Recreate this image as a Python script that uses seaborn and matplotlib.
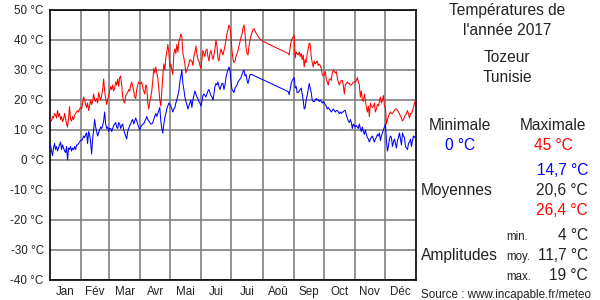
import numpy as np
import pandas as pd
import matplotlib
matplotlib.use("Agg")
import matplotlib.pyplot as plt
import seaborn as sns

nan = np.nan

# ---- labels ----
month_names = ["Jan", "Fév", "Mar", "Avr", "Mai", "Jui", "Jui", "Aoû", "Sep", "Oct", "Nov", "Déc"]
month_days = [31, 28, 31, 30, 31, 30, 31, 31, 30, 31, 30, 31]
y_ticks = [-40, -30, -20, -10, 0, 10, 20, 30, 40, 50]

# ---- daily maximum temperatures (°C) ----
tmax_jan = [13.5, 13, 14.5, 14, 15.5, 15, 14, 16.5, 14.5, 15.5, 13.5, 14.5, 12.8, 13.5, 15.5, 14, 12, 11, 14, 17.8,
            13.5, 13, 14.5, 13.5, 15, 15.5, 16, 16.5, 16, 17, 17.5]
tmax_feb = [17, 19, 21, 20, 18.5, 17.5, 19, 16.5, 18, 20, 18.5, 19.5, 22, 20, 19.5, 20.5, 19, 22.5, 21, 20,
            21.5, 23.5, 27, 23, 20.5, 18.5, 20, 21.5]
tmax_mar = [23, 24.5, 23.5, 25, 23, 24, 26, 25, 27, 24.5, 27.5, 28, 25, 21, 19.5, 19, 21.5, 22, 22.5, 23.5,
            23, 25, 26, 24.5, 23, 21, 20.5, 23.5, 25, 26, 25.5]
tmax_apr = [25.5, 26, 24, 23, 22, 25, 24.5, 19, 17, 19.5, 21, 23, 26.5, 30.5, 29, 31, 29, 27.5, 24, 20,
            18, 23, 28, 32, 30, 34, 36, 38.5, 36, 31]
tmax_may = [32, 30, 28.5, 35.5, 37, 35.5, 38.5, 36, 39.5, 40.5, 42, 41, 35.5, 34, 32, 29, 30, 31, 32, 33.5,
            33, 33, 31.5, 34.5, 36, 38, 35.5, 33.5, 33, 31.5, 30.5]
tmax_jun = [33.5, 36.5, 35.5, 34.5, 36.5, 37, 34.5, 33, 35.5, 36.5, 35, 33.5, 35, 37, 40, 38, 34, 33, 35.5, 37,
            36, 35, 36.5, 38, 40, 42, 43.5, 45, 44, 41]
tmax_jul = [36.5, 33.5, 32.5, 33, 34.5, 35.5, 36.5, 38, 39.5, 41, 42, 44, 45, 42, 37.5, 35.5, 35, 38, 40, 41.5,
            42.5, 43.5, 43.8, 43, 42.3, 41.8, 41.2, 40.7, 40.3, 40, 39.7]
tmax_aug = [nan] * 25 + [35.5, 35, 37.5, 39.5, 40.5, 41]
tmax_sep = [41.5, 34, 36, 35.5, 35, 36, 34.5, 35.5, 33.5, 35, 31, 33.5, 32.5, 35.5, 37, 39, 38.5, 34.5, 32.5, 31,
            33, 32, 32.5, 33, 31.5, 32, 31.5, 30.5, 28.5, 28]
tmax_oct = [28.5, 29.5, 27, 26, 25, 27, 27, 26.5, 29, 30, 29.5, 29, 29.5, 27.5, 26, 25, 26, 26.5, 26.5, 25,
            22, 25, 25.5, 26, 25.5, 25.5, 25, 25, 25.5, 26, 26]
tmax_nov = [26, 26.5, 27.5, 26, 25, 21, 23, 20, 19.5, 22, 20, 17.5, 16, 18, 14.5, 19, 18, 17.5, 18, 19,
            16, 17, 18.5, 18, 19.5, 21, 19, 20, 21.5, 18]
tmax_dec = [17.5, 12, 13.5, 14.5, 15.5, 16, 15.5, 15.5, 16, 16.5, 17, 17, 16.5, 16, 15.5, 14.5, 14, 13, 13.5, 14.5,
            15, 15.5, 16.5, 15.5, 14, 15.5, 15.5, 16.5, 17.5, 19, 20]

# ---- daily minimum temperatures (°C) ----
tmin_jan = [5, 3, 1.5, 4, 5.5, 3.5, 4.5, 3, 4, 5, 6, 3.5, 5, 4, 3, 2.5, 4.5, 0, 4, 3.5,
            4.5, 3, 4, 3.5, 4.5, 3.5, 5, 5, 5.5, 6, 6.5]
tmin_feb = [6.5, 7, 8, 7.5, 8.5, 9, 5.5, 9.5, 8.5, 6, 2, 7, 10, 13.5, 11, 9.5, 8, 9, 10, 11,
            10.5, 11.5, 13, 16, 12, 10.5, 11, 9.5]
tmin_mar = [10.5, 10.5, 9.5, 10.5, 11.5, 12, 12.5, 11, 10.5, 12.5, 12, 10.5, 11.5, 12, 10, 9, 8, 7, 9.5, 10.5,
            11.5, 12, 13, 13.5, 12, 13, 14, 13, 12, 11, 10]
tmin_apr = [11, 11.5, 12, 12, 13, 13.5, 14.5, 13.5, 13, 12.5, 12, 12, 12.5, 13.5, 14.5, 15.5, 14.5, 15.5, 16.5, 17.5,
            13, 10.5, 9, 12, 14, 15.5, 17, 18, 19, 18.5]
tmin_may = [18, 17, 16, 17, 17.5, 19, 20, 21.5, 23, 26, 28, 30, 25.5, 23.5, 21, 19.5, 18.5, 17, 18, 19,
            20, 17.5, 20, 21.5, 23, 22, 21, 20.5, 19.5, 19, 18]
tmin_jun = [19.5, 21.5, 22, 21.5, 21, 22, 23, 23.5, 22.5, 21.5, 21, 20, 22, 24.5, 25.5, 25, 26, 24.5, 23.5, 24.5,
            25.5, 25.5, 23.5, 25, 27.5, 29, 30, 31, 30, 26]
tmin_jul = [23.5, 23, 22.5, 24, 24.5, 25, 26, 26.5, 27, 27.5, 28.5, 29.5, 30, 28, 28.5, 26.5, 25.5, 27, 28.5, 28.5,
            28.5, 28.3, 28.1, 28, 27.8, 27.6, 27.5, 27.3, 27.2, 27, 26.9]
tmin_aug = [nan] * 25 + [22.8, 21.8, 23.5, 25.5, 26.5, 27]
tmin_sep = [27.5, 24, 24.5, 22.5, 22.5, 23, 23.5, 24, 22, 20, 17, 17.5, 20, 21.5, 23.5, 25.5, 24, 22.5, 20, 19.5,
            19.5, 20, 20.5, 20, 20, 19.5, 20, 19.5, 19, 19.5]
tmin_oct = [19, 18.5, 18, 17, 17.5, 17, 16.5, 16, 16.5, 17, 16.5, 16, 16.5, 16.5, 16, 15.5, 16, 15.5, 16, 16,
            16.5, 16.5, 15, 14, 13, 12.5, 13.5, 12.5, 10.5, 12, 11.5]
tmin_nov = [11, 11.5, 11, 10.5, 12, 10.5, 9.5, 11, 9.5, 8.5, 10, 8.5, 7.5, 7, 6, 7, 7.5, 8, 7, 6,
            7, 7.5, 8.5, 8, 9, 6.5, 8, 9, 10, 11]
tmin_dec = [12, 6.5, 3, 4.5, 7, 8, 7.5, 4.5, 6, 7, 5.5, 4, 6.5, 7.5, 9, 7, 5, 9, 8, 7.5,
            4.5, 4, 3.5, 5.5, 6, 7, 4.5, 6.5, 8, 7.5, 8]

tmax = (tmax_jan + tmax_feb + tmax_mar + tmax_apr + tmax_may + tmax_jun +
        tmax_jul + tmax_aug + tmax_sep + tmax_oct + tmax_nov + tmax_dec)
tmin = (tmin_jan + tmin_feb + tmin_mar + tmin_apr + tmin_may + tmin_jun +
        tmin_jul + tmin_aug + tmin_sep + tmin_oct + tmin_nov + tmin_dec)

df = pd.DataFrame({"day": np.arange(len(tmax)) + 0.5, "tmax": tmax, "tmin": tmin})

# ---- styling ----
sns.set_theme(style="white")
plt.rcParams["font.family"] = ["Liberation Sans", "DejaVu Sans"]

W, H = 600, 300
fig = plt.figure(figsize=(6, 3), dpi=100)
fig.patch.set_facecolor("white")
ax = fig.add_axes([50 / W, 1 - 280 / H, 366 / W, 270 / H])

grid_col = "#808080"
ax.set_axisbelow(True)

sns.lineplot(data=df.dropna(subset=["tmax"]), x="day", y="tmax", color="#ff0000",
             linewidth=0.75, estimator=None, ax=ax, zorder=3)
sns.lineplot(data=df.dropna(subset=["tmin"]), x="day", y="tmin", color="#0000ff",
             linewidth=0.75, estimator=None, ax=ax, zorder=3)

month_starts = np.cumsum([0] + month_days)
ax.set_xlim(0, 365)
ax.set_ylim(-40, 50)
ax.set_xticks(month_starts[1:-1])
ax.set_xticklabels([])
ax.set_xticks((month_starts[:-1] + month_starts[1:]) / 2, minor=True)
ax.set_xticklabels(month_names, minor=True, fontsize=8.4, color="#222222")
ax.set_yticks(y_ticks)
ax.set_yticklabels([f"{v} °C" for v in y_ticks], fontsize=8.4, color="#222222")
ax.tick_params(axis="both", which="both", length=0)
ax.tick_params(axis="x", which="minor", pad=4.5)
ax.tick_params(axis="y", pad=4.5)
ax.grid(True, which="major", color=grid_col, linewidth=1.2)
ax.set_xlabel("")
ax.set_ylabel("")
for s in ax.spines.values():
    s.set_color("black")
    s.set_linewidth(1.2)


def T(x, y, s, size=11.2, color="#222222", ha="center"):
    fig.text(x / W, 1 - y / H, s, fontsize=size, color=color, ha=ha, va="baseline")


T(507, 15, "Températures de")
T(507, 35, "l'année 2017")
T(507, 62.5, "Tozeur")
T(507, 81.5, "Tunisie")
T(460, 130, "Minimale")
T(553, 130, "Maximale")
T(460, 150, "0 °C", color="#0000ff")
T(553, 150, "45 °C", color="#ff0000")
T(588, 175, "14,7 °C", color="#0000ff", ha="right")
T(421, 195, "Moyennes", ha="left")
T(588, 195, "20,6 °C", ha="right")
T(588, 215, "26,4 °C", color="#ff0000", ha="right")
T(506, 240, "min.", size=8.3, ha="left")
T(588, 240, "4 °C", ha="right")
T(421, 260, "Amplitudes", ha="left")
T(506, 260, "moy.", size=8.3, ha="left")
T(588, 260, "11,7 °C", ha="right")
T(506, 279.5, "max.", size=8.3, ha="left")
T(588, 279.5, "19 °C", ha="right")
T(421, 298, "Source : www.incapable.fr/meteo", size=8.4, ha="left")

fig.savefig("out.png", dpi=100, facecolor="white")
